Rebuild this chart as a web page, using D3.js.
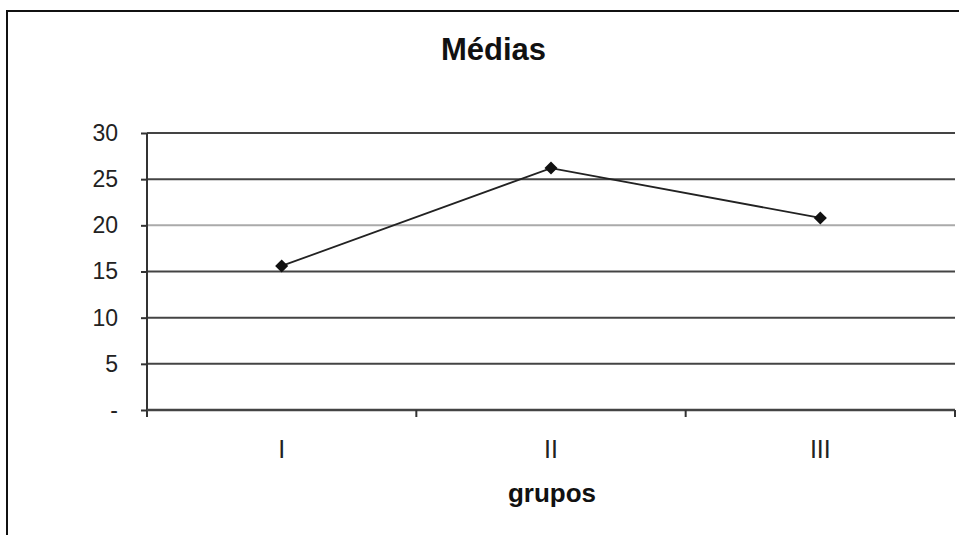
<!DOCTYPE html>
<html><head><meta charset="utf-8">
<script src="https://cdn.jsdelivr.net/npm/d3@7"></script>
<style>body{margin:0;background:#fff}svg{display:block}text{font-family:"Liberation Sans",Arial,sans-serif}</style>
</head><body>
<svg id="c" width="959" height="535"></svg>
<script>
const categories = ["I","II","III"];
const values = [15.6, 26.2, 20.8];
const yTicks = [0,5,10,15,20,25,30];
const yTickLabels = ["-","5","10","15","20","25","30"];
const title = "Médias";
const xTitle = "grupos";

const svg = d3.select("#c");
const m = {left:147, right:955, top:133, bottom:410};
const x = d3.scaleBand().domain(categories).range([m.left, m.right]);
const y = d3.scaleLinear().domain([0,30]).range([m.bottom, m.top]);

// frame
svg.append("line").attr("x1",6).attr("x2",959).attr("y1",11).attr("y2",11).attr("stroke","#111").attr("stroke-width",2);
svg.append("line").attr("x1",7).attr("x2",7).attr("y1",11).attr("y2",535).attr("stroke","#111").attr("stroke-width",2);

// gridlines
svg.append("g").selectAll("line").data(yTicks.filter(d=>d>0)).join("line")
  .attr("x1",m.left).attr("x2",m.right).attr("y1",d=>y(d)).attr("y2",d=>y(d))
  .attr("stroke",d=>d===20?"#aaa":"#444").attr("stroke-width",2);

// y axis
const ya = svg.append("g").attr("transform",`translate(${m.left},0)`)
  .call(d3.axisLeft(y).tickValues(yTicks).tickFormat((d,i)=>yTickLabels[i]).tickSize(6).tickSizeOuter(0).tickPadding(23));
ya.select(".domain").attr("stroke","#333").attr("stroke-width",2).attr("d",`M0,${m.top}V${m.bottom+7}`);
ya.selectAll(".tick line").attr("stroke","#333").attr("stroke-width",2);
ya.selectAll("text").attr("font-size",23).attr("fill","#222");

// x axis
const xa = svg.append("g").attr("transform",`translate(0,${m.bottom})`)
  .call(d3.axisBottom(x).tickSize(0).tickPadding(30));
xa.select(".domain").attr("stroke","#444").attr("stroke-width",2.5).attr("d",`M${m.left},0H${m.right}`);
xa.selectAll("text").attr("font-size",25).attr("fill","#222");
svg.append("g").selectAll("line").data(categories).join("line")
  .attr("x1",d=>x(d)+x.bandwidth()).attr("x2",d=>x(d)+x.bandwidth())
  .attr("y1",m.bottom).attr("y2",m.bottom+7).attr("stroke","#333").attr("stroke-width",2);

// line
svg.append("path").datum(values)
  .attr("d",d3.line().x((d,i)=>x(categories[i])+x.bandwidth()/2).y(d=>y(d)))
  .attr("fill","none").attr("stroke","#222").attr("stroke-width",1.8);
svg.append("g").selectAll("path").data(values).join("path")
  .attr("d",d3.symbol(d3.symbolSquare,85))
  .attr("transform",(d,i)=>`translate(${x(categories[i])+x.bandwidth()/2},${y(d)}) rotate(45)`)
  .attr("fill","#111");

svg.append("text").attr("x",493.5).attr("y",60).attr("text-anchor","middle")
  .attr("font-size",31).attr("font-weight","bold").attr("fill","#111").text(title);
svg.append("text").attr("x",552).attr("y",502).attr("text-anchor","middle")
  .attr("font-size",26).attr("font-weight","bold").attr("fill","#111").text(xTitle);
</script>
</body></html>
